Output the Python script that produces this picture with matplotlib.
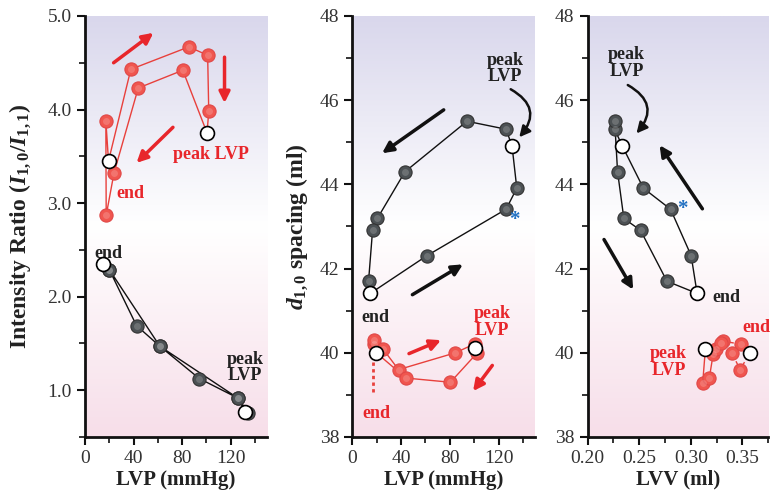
import numpy as np
import matplotlib
matplotlib.use("Agg")
import matplotlib.pyplot as plt
from matplotlib.ticker import MultipleLocator, FormatStrFormatter

plt.rcParams['font.family'] = ['Liberation Serif', 'DejaVu Serif']
plt.rcParams['mathtext.fontset'] = 'custom'
plt.rcParams['mathtext.rm'] = 'Liberation Serif:bold'
plt.rcParams['mathtext.it'] = 'Liberation Serif:bold:italic'
plt.rcParams['mathtext.bf'] = 'Liberation Serif:bold'

# panel 1: intensity ratio vs LVP
p1_red_lvp = [19.4, 37.8, 85.6, 101.1, 102.0, 100.6, 80.6, 43.9, 23.9, 17.5, 17.2, 19.4]
p1_red_ratio = [3.45, 4.43, 4.67, 4.58, 3.98, 3.75, 4.42, 4.23, 3.32, 2.87, 3.88, 3.45]
p1_red_open = [0, 5]
p1_blk_lvp = [14.7, 20.0, 42.5, 61.7, 94.2, 126.1, 134.7, 132.0, 126.1, 61.7, 20.0, 14.7]
p1_blk_ratio = [2.35, 2.29, 1.69, 1.47, 1.125, 0.915, 0.76, 0.77, 0.915, 1.47, 2.29, 2.35]
p1_blk_open = [0, 7]

# panel 2: d10 spacing vs LVP
p2_blk_lvp = [14.7, 61.4, 126.2, 135.0, 131.1, 126.2, 94.1, 43.2, 20.5, 16.6, 13.3, 14.7]
p2_blk_d = [41.41, 42.31, 43.41, 43.91, 44.91, 45.31, 45.50, 44.30, 43.19, 42.91, 41.70, 41.41]
p2_blk_open = [0, 4]
p2_red_lvp = [17.4, 17.4, 24.9, 37.9, 84.6, 101.0, 100.4, 102.6, 80.5, 44.0, 19.7]
p2_red_d = [40.22, 40.30, 40.10, 39.60, 40.00, 40.22, 40.12, 40.00, 39.30, 39.40, 40.00]
p2_red_open = [6, 10]

# panel 3: d10 spacing vs LVV
p3_blk_lvv = [0.3061, 0.3003, 0.2804, 0.2541, 0.2337, 0.2263, 0.2263, 0.2291, 0.2352, 0.2513, 0.2769, 0.3061]
p3_blk_d = p2_blk_d
p3_blk_open = [0, 4]
p3_red_lvv = [0.3141, 0.3115, 0.3179, 0.3217, 0.3240, 0.3291, 0.3310, 0.3487, 0.3573, 0.3477, 0.3397]
p3_red_d = [40.09, 39.28, 39.40, 39.98, 40.08, 40.23, 40.28, 40.20, 40.00, 39.60, 40.00]
p3_red_open = [0, 8]

RED = '#f0564f'
RED_LINE = '#e8403c'
RED_TXT = '#e8262b'
GRAY = '#4c5154'
BLUE = '#1f6fc1'
TXT = '#222222'

fig = plt.figure(figsize=(7.71, 4.95), dpi=100)
bot, hgt = 0.1172, 0.8505
ax1 = fig.add_axes([0.1102, bot, 0.2361, hgt])
ax2 = fig.add_axes([0.4570, bot, 0.2370, hgt])
ax3 = fig.add_axes([0.7620, bot, 0.2345, hgt])

# background gradient lavender -> white -> pink
stops = np.linspace(0, 1, 256)
top_c = np.array([217, 215, 236]) / 255
mid_c = np.array([1.0, 1.0, 1.0])
bot_c = np.array([247, 222, 233]) / 255
grad = np.zeros((256, 1, 3))
for i, s in enumerate(stops):
    if s < 0.5:
        t = s / 0.5
        grad[i, 0] = bot_c * (1 - t) + mid_c * t
    else:
        t = (s - 0.5) / 0.5
        grad[i, 0] = mid_c * (1 - t) + top_c * t


def style(ax, xlab, ylab=None):
    ax.imshow(grad, extent=[0, 1, 0, 1], transform=ax.transAxes, origin='lower',
              aspect='auto', zorder=0)
    for s in ['top', 'right']:
        ax.spines[s].set_visible(False)
    for s in ['left', 'bottom']:
        ax.spines[s].set_linewidth(2)
        ax.spines[s].set_color('#111111')
    ax.tick_params(which='major', direction='out', length=6, width=1.5,
                   labelsize=14, labelcolor='#333333', color='#111111')
    ax.tick_params(which='minor', direction='out', length=4, width=1.2, color='#111111')
    ax.set_xlabel(xlab, fontsize=15, fontweight='bold', color=TXT, labelpad=2)
    if ylab:
        ax.set_ylabel(ylab, fontsize=17, fontweight='bold', color=TXT)


def dots(ax, x, y, face, edge):
    ax.plot(x, y, 'o', ms=9.5, mfc=face, mec=edge, mew=0.8, ls='none', zorder=3)
    # soft highlight to suggest the shaded spheres
    ax.plot(x, y, 'o', ms=5, mfc='white', mec='none', alpha=0.18, ls='none', zorder=3)


def series(ax, x, y, opens, face, edge, line, lw=1.0, ls='-'):
    ax.plot(x, y, color=line, lw=lw, ls=ls, zorder=2)
    dots(ax, x, y, face, edge)
    ax.plot([x[i] for i in opens], [y[i] for i in opens], 'o', ms=10, mfc='white',
            mec='black', mew=1.2, ls='none', zorder=4)


def arrow(ax, tail, head, color, lw=2.5, rad=0.0):
    ax.annotate('', xy=head, xytext=tail,
                arrowprops=dict(arrowstyle='-|>', lw=lw, color=color, mutation_scale=16,
                                shrinkA=0, shrinkB=0,
                                connectionstyle='arc3,rad=%s' % rad), zorder=5)


# ---- panel 1
style(ax1, 'LVP (mmHg)', r'Intensity Ratio ($I_{1,0}/I_{1,1}$)')
ax1.set_xlim(0, 150)
ax1.set_ylim(0.5, 5.0)
ax1.set_xticks([0, 40, 80, 120])
ax1.xaxis.set_minor_locator(MultipleLocator(20))
ax1.yaxis.set_major_locator(MultipleLocator(1.0))
ax1.yaxis.set_minor_locator(MultipleLocator(0.5))
ax1.yaxis.set_major_formatter(FormatStrFormatter('%.1f'))
series(ax1, p1_red_lvp, p1_red_ratio, p1_red_open, RED, '#e04848', RED_LINE)
series(ax1, p1_blk_lvp, p1_blk_ratio, p1_blk_open, GRAY, '#333333', '#111111')
arrow(ax1, (23.6, 4.50), (56.4, 4.82), RED_TXT)
arrow(ax1, (115, 4.56), (115, 4.07), RED_TXT)
arrow(ax1, (72.5, 3.81), (42.5, 3.43), RED_TXT)
ax1.text(104, 3.52, 'peak LVP', color=RED_TXT, fontsize=13, fontweight='bold',
         ha='center', va='center')
ax1.text(37.5, 3.10, 'end', color=RED_TXT, fontsize=13, fontweight='bold',
         ha='center', va='center')
ax1.text(19.4, 2.46, 'end', color=TXT, fontsize=13, fontweight='bold',
         ha='center', va='center')
ax1.text(132, 1.24, 'peak\nLVP', color=TXT, fontsize=13, fontweight='bold',
         ha='center', va='center', linespacing=0.95)
ax1.yaxis.set_label_coords(-0.285, 0.5)

# ---- panel 2
style(ax2, 'LVP (mmHg)', r'$d_{1,0}$ spacing (ml)')
ax2.set_xlim(0, 150)
ax2.set_ylim(38, 48)
ax2.set_xticks([0, 40, 80, 120])
ax2.xaxis.set_minor_locator(MultipleLocator(20))
ax2.yaxis.set_major_locator(MultipleLocator(2))
ax2.yaxis.set_minor_locator(MultipleLocator(1))
series(ax2, p2_blk_lvp, p2_blk_d, p2_blk_open, GRAY, '#333333', '#111111')
series(ax2, p2_red_lvp, p2_red_d, p2_red_open, RED, '#e04848', RED_LINE)
ax2.plot([16.9, 16.9], [39.78, 39.05], color=RED_LINE, lw=2, ls=(0, (1.2, 1.2)), zorder=2)
arrow(ax2, (75, 45.77), (24.4, 44.74), '#111111')
arrow(ax2, (49.3, 41.38), (90.8, 42.10), '#111111')
arrow(ax2, (130, 46.26), (137, 45.12), '#111111', lw=1.8, rad=-0.6)
arrow(ax2, (46.5, 39.98), (72.8, 40.30), RED_TXT)
arrow(ax2, (114.9, 39.70), (99.1, 39.09), RED_TXT)
ax2.text(125.3, 46.76, 'peak\nLVP', color=TXT, fontsize=13, fontweight='bold',
         ha='center', va='center', linespacing=0.95)
ax2.text(114.8, 40.73, 'peak\nLVP', color=RED_TXT, fontsize=13, fontweight='bold',
         ha='center', va='center', linespacing=0.95)
ax2.text(18.8, 40.85, 'end', color=TXT, fontsize=13, fontweight='bold',
         ha='center', va='center')
ax2.text(19.4, 38.56, 'end', color=RED_TXT, fontsize=13, fontweight='bold',
         ha='center', va='center')
ax2.text(132.8, 43.15, '*', color=BLUE, fontsize=15, fontweight='bold',
         ha='center', va='center')
ax2.yaxis.set_label_coords(-0.23, 0.5)

# ---- panel 3
style(ax3, 'LVV (ml)')
ax3.set_xlim(0.2, 0.375)
ax3.set_ylim(38, 48)
ax3.set_xticks([0.20, 0.25, 0.30, 0.35])
ax3.xaxis.set_minor_locator(MultipleLocator(0.025))
ax3.xaxis.set_major_formatter(FormatStrFormatter('%.2f'))
ax3.yaxis.set_major_locator(MultipleLocator(2))
ax3.yaxis.set_minor_locator(MultipleLocator(1))
series(ax3, p3_blk_lvv, p3_blk_d, p3_blk_open, GRAY, '#333333', '#111111')
ax3.plot(p3_red_lvv[:7], p3_red_d[:7], color=RED_LINE, lw=1.0, zorder=2)
series(ax3, p3_red_lvv[6:], p3_red_d[6:], [2], RED, '#e04848', RED_LINE, ls=(0, (3, 2)))
dots(ax3, p3_red_lvv[:6], p3_red_d[:6], RED, '#e04848')
ax3.plot(p3_red_lvv[0], p3_red_d[0], 'o', ms=10, mfc='white', mec='black', mew=1.2, zorder=4)
arrow(ax3, (0.3112, 43.42), (0.2698, 44.93), '#111111')
arrow(ax3, (0.216, 42.69), (0.2442, 41.50), '#111111')
arrow(ax3, (0.239, 46.36), (0.2474, 45.21), '#111111', lw=1.8, rad=-0.6)
ax3.text(0.2378, 46.88, 'peak\nLVP', color=TXT, fontsize=13, fontweight='bold',
         ha='center', va='center', linespacing=0.95)
ax3.text(0.2785, 39.78, 'peak\nLVP', color=RED_TXT, fontsize=13, fontweight='bold',
         ha='center', va='center', linespacing=0.95)
ax3.text(0.334, 41.31, 'end', color=TXT, fontsize=13, fontweight='bold',
         ha='center', va='center')
ax3.text(0.3635, 40.6, 'end', color=RED_TXT, fontsize=13, fontweight='bold',
         ha='center', va='center')
ax3.text(0.2923, 43.42, '*', color=BLUE, fontsize=15, fontweight='bold',
         ha='center', va='center')

fig.savefig('out.png', dpi=100)
